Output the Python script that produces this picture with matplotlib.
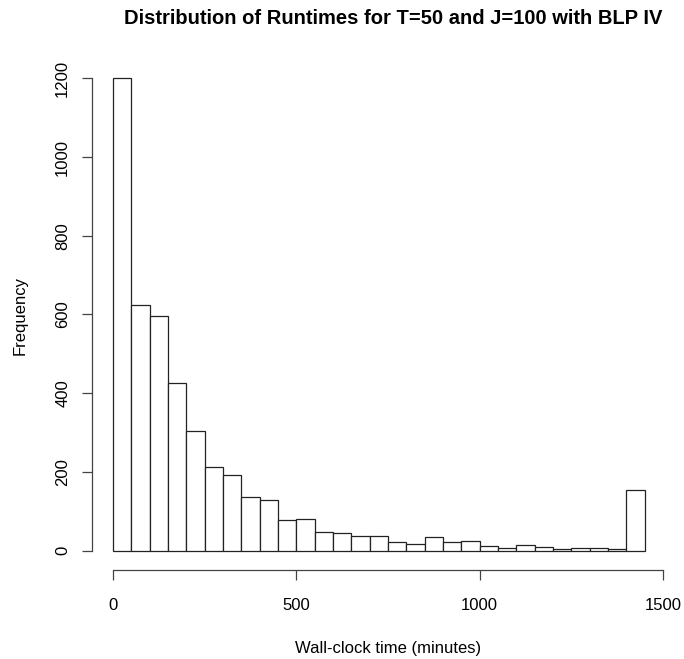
import matplotlib
matplotlib.use("Agg")
import matplotlib.pyplot as plt
import numpy as np

plt.rcParams["font.family"] = ["Liberation Sans", "DejaVu Sans"]

# histogram bins (minutes) and counts
bin_edges = list(range(0, 1451, 50))
counts = [1200, 624, 596, 425, 303, 212, 192, 137, 130, 78,
          80, 47, 45, 38, 38, 23, 18, 36, 23, 25,
          11, 7, 14, 9, 4, 8, 8, 4, 154]

x_ticks = [0, 500, 1000, 1500]
y_ticks = [0, 200, 400, 600, 800, 1000, 1200]

fig = plt.figure(figsize=(6.84, 6.59), dpi=100)
ax = fig.add_axes([0.134, 0.1357, 0.8397, 0.7742])

ax.bar(bin_edges[:-1], counts, width=50, align="edge",
       facecolor="white", edgecolor="#222222", linewidth=0.9)

ax.set_xlim(-58, 1508)
ax.set_ylim(-48, 1248)

for side in ["top", "right"]:
    ax.spines[side].set_visible(False)
ax.spines["bottom"].set_bounds(0, 1500)
ax.spines["left"].set_bounds(0, 1200)
for side in ["bottom", "left"]:
    ax.spines[side].set_linewidth(0.9)
    ax.spines[side].set_color("#444444")

ax.set_xticks(x_ticks)
ax.set_yticks(y_ticks)
ax.tick_params(axis="both", length=7.5, width=0.9, color="#444444", labelsize=12)
ax.tick_params(axis="x", pad=13)
ax.tick_params(axis="y", pad=8)
for lab in ax.get_yticklabels():
    lab.set_rotation(90)
    lab.set_va("center")

fig.text(0.5675, 0.004, "Wall-clock time (minutes)", ha="center", va="bottom", fontsize=12)
fig.text(0.029, 0.522, "Frequency", ha="center", va="center", rotation=90, fontsize=12)
fig.text(0.575, 0.972, "Distribution of Runtimes for T=50 and J=100 with BLP IV",
         ha="center", va="center", fontsize=14.5, fontweight="bold")

fig.savefig("out.png", dpi=100)
